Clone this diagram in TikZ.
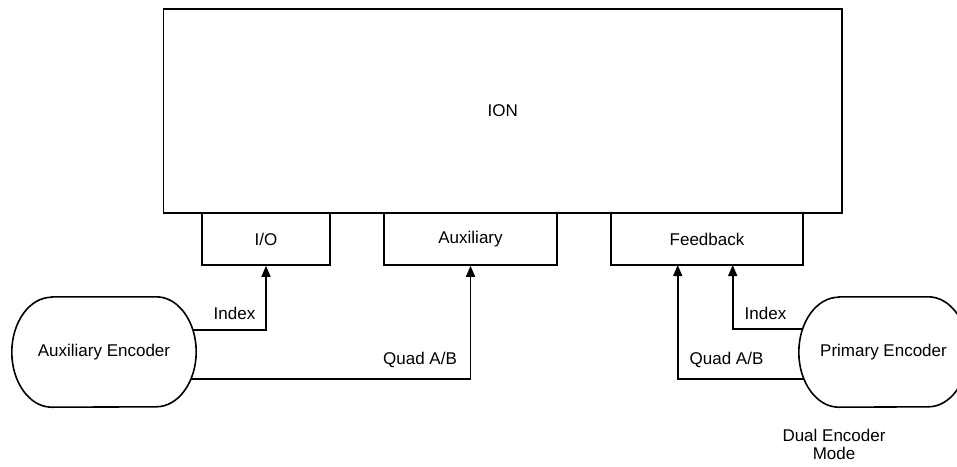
\documentclass[tikz,border=0pt]{standalone}
\usepackage{fontspec}
\setmainfont{Liberation Sans}
\usetikzlibrary{arrows.meta}
\tikzset{
  box/.style={draw, line width=1.6pt, inner sep=0pt, font=\fontsize{17}{18.5}\selectfont},
  encbody/.style={inner sep=0pt, minimum width=#1, minimum height=110pt, font=\fontsize{17}{18.5}\selectfont},
  encline/.style={line width=1.6pt},
  wire/.style={line width=1.6pt, -{Triangle[length=11pt,width=9pt]}},
  lbl/.style={font=\fontsize{17}{18}\selectfont, inner sep=0pt},
}
\begin{document}
\begin{tikzpicture}[x=1pt,y=1pt]
\useasboundingbox (0,0) rectangle (957,-466);
% main box
\node[box, minimum width=678.5pt, minimum height=204pt] (ion) at (502.75,-111) {ION};
% ports
\node[box, minimum width=128pt, minimum height=52pt] (io) at (266,-239) {I/O};
\node[box, minimum width=173pt, minimum height=52pt] (aux) at (470.5,-239) {Auxiliary};
\node[box, minimum width=192pt, minimum height=52pt] (fb) at (707,-239) {Feedback};
% encoders
\node[encbody=184pt] (ae) at (104,-352) {Auxiliary Encoder};
\draw[encline] ([xshift=40pt]ae.north west) -- ([xshift=-40pt]ae.north east)
  arc[start angle=90,end angle=-90,x radius=40pt,y radius=55pt]
  -- ([xshift=40pt]ae.south west)
  arc[start angle=270,end angle=90,x radius=40pt,y radius=55pt] -- cycle;
\node[encbody=169pt] (pe) at (883.5,-352) {Primary Encoder};
\draw[encline] ([xshift=40pt]pe.north west) -- ([xshift=-40pt]pe.north east)
  arc[start angle=90,end angle=-90,x radius=40pt,y radius=55pt]
  -- ([xshift=40pt]pe.south west)
  arc[start angle=270,end angle=90,x radius=40pt,y radius=55pt] -- cycle;
% connector ends on encoder outlines
\coordinate (aeI) at (192.7,-330);
\coordinate (aeQ) at (190.9,-379);
\coordinate (peI) at (802.7,-329);
\coordinate (peQ) at (804.1,-379);
\coordinate (fbL) at (677.7,-265);
\coordinate (fbR) at (732.7,-265);
% connectors
\draw[wire] (aeI) -| (io.south);
\draw[wire] (aeQ) -| (aux.south);
\draw[wire] (peQ) -| (fbL);
\draw[wire] (peI) -| (fbR);
% labels
\node[lbl] (l1) at (234.5,-313) {Index};
\node[lbl] (l2) at (420,-360) {Quad A/B};
\node[lbl] (l3) at (765.5,-313) {Index};
\node[lbl] (l4) at (726.5,-360) {Quad A/B};
\node[lbl, align=center] (mode) at (834,-444) {Dual Encoder\\Mode};
\end{tikzpicture}
\end{document}
